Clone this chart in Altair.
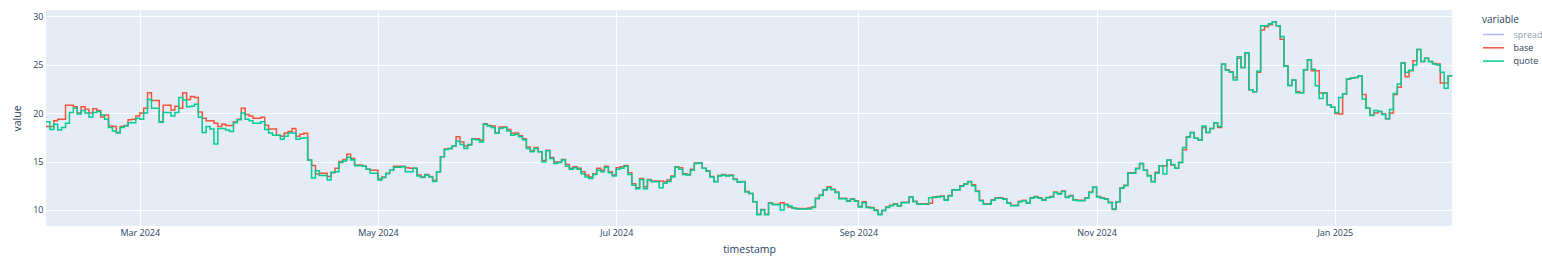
import altair as alt
import pandas as pd

start_date = "2024-02-06"

base = [
    18.6, 18.6, 19.2, 19.35, 19.35, 20.8, 20.8, 20.65, 20.0, 20.65,
    20.4, 20.0, 20.45, 20.25, 19.6, 19.8, 18.65, 18.6, 18.0, 18.6,
    18.7, 19.3, 19.35, 19.7, 20.0, 20.5, 22.1, 21.3, 21.3, 19.1,
    20.8, 20.8, 20.3, 20.7, 20.5, 22.1, 21.4, 21.7, 21.6, 20.1,
    19.45, 19.2, 19.2, 18.95, 18.6, 18.85, 18.7, 18.7, 19.1, 19.35,
    20.5, 19.85, 19.7, 19.45, 19.45, 19.55, 18.75, 18.35, 18.35, 17.7,
    17.6, 17.95, 18.1, 18.4, 17.6, 17.8, 17.9, 15.15, 14.6, 13.7,
    13.8, 13.8, 13.45, 13.85, 14.3, 15.0, 15.2, 15.75, 15.3, 14.65,
    14.65, 14.5, 14.2, 14.1, 14.1, 13.2, 13.4, 13.8, 14.1, 14.5,
    14.5, 14.5, 14.35, 14.3, 14.3, 13.6, 13.4, 13.65, 13.45, 13.05,
    13.95, 15.5, 16.3, 16.35, 16.6, 17.55, 17.0, 16.6, 16.75, 17.35,
    17.35, 17.2, 18.9, 18.7, 18.65, 17.95, 18.55, 18.55, 18.3, 17.9,
    17.95, 17.65, 17.35, 16.5, 16.1, 16.45, 16.0, 15.1, 16.15, 15.4,
    14.95, 14.95, 15.2, 14.7, 14.3, 14.45, 14.3, 13.95, 13.6, 13.4,
    13.75, 14.3, 14.1, 14.5, 13.95, 13.6, 14.35, 14.45, 14.6, 13.85,
    12.7, 12.3, 13.25, 12.4, 13.15, 13.0, 13.0, 13.0, 12.9, 13.1,
    13.5, 14.45, 14.35, 13.75, 13.65, 14.2, 14.85, 14.85, 14.3, 14.05,
    13.45, 12.95, 13.55, 13.65, 13.55, 13.6, 13.2, 12.9, 12.95, 11.9,
    11.7, 10.85, 9.55, 10.05, 9.55, 10.75, 10.6, 10.6, 10.75, 10.6,
    10.3, 10.2, 10.15, 10.15, 10.15, 10.2, 10.3, 11.2, 11.55, 12.1,
    12.4, 12.15, 11.85, 11.2, 11.2, 10.95, 11.15, 10.95, 10.35, 10.85,
    10.3, 10.25, 10.0, 9.55, 9.95, 10.3, 10.5, 10.65, 10.45, 10.8,
    10.8, 11.35, 10.9, 10.65, 10.65, 10.65, 10.7, 11.35, 11.4, 11.45,
    11.05, 11.5, 12.1, 12.1, 12.5, 12.7, 12.95, 12.6, 11.95, 11.0,
    10.65, 10.65, 11.05, 11.25, 11.25, 11.15, 10.75, 10.5, 10.5, 10.9,
    11.0, 10.75, 11.25, 11.4, 11.25, 11.05, 11.3, 11.4, 11.85, 11.7,
    11.95, 11.35, 11.5, 11.05, 11.0, 11.0, 11.25, 11.85, 12.35, 11.4,
    11.25, 11.15, 10.8, 10.05, 10.85, 12.3, 12.55, 13.85, 13.85, 14.3,
    14.8, 14.1, 13.55, 12.95, 13.9, 14.55, 14.55, 15.15, 14.65, 14.3,
    14.9, 16.2, 17.55, 18.0, 17.4, 17.2, 18.5, 18.0, 18.4, 19.0,
    18.5, 25.05, 24.45, 24.25, 23.65, 25.65, 24.7, 26.2, 22.4, 22.2,
    24.2, 28.55, 28.9, 29.1, 29.4, 29.0, 27.6, 24.85, 22.85, 23.4,
    22.2, 22.1, 24.45, 25.5, 24.35, 24.35, 22.05, 22.05, 20.85, 20.6,
    19.95, 19.9, 21.95, 23.5, 23.6, 23.65, 23.85, 21.9, 20.5, 19.8,
    20.0, 20.15, 19.9, 19.4, 20.0, 21.9, 22.65, 25.15, 23.75, 24.35,
    25.4, 26.55, 25.3, 25.65, 25.3, 25.1, 25.05, 23.1, 23.1, 23.85,
    23.9,
]

quote = [
    19.1, 18.3, 18.85, 18.25, 18.5, 18.95, 20.05, 20.5, 19.9, 20.25,
    20.0, 19.6, 20.05, 20.15, 19.8, 19.35, 18.5, 18.15, 17.95, 18.5,
    18.65, 19.0, 19.0, 19.45, 19.35, 20.0, 21.4, 20.5, 20.5, 19.05,
    20.05, 20.05, 19.7, 20.05, 21.6, 21.35, 20.65, 20.7, 20.9, 19.55,
    18.0, 18.6, 18.35, 16.8, 18.4, 18.4, 18.25, 18.1, 19.0, 19.3,
    20.0, 19.35, 19.2, 18.95, 18.95, 19.1, 18.3, 17.95, 17.7, 17.7,
    17.3, 17.6, 17.95, 17.95, 17.3, 17.4, 17.45, 15.15, 13.3, 14.05,
    13.55, 13.55, 13.1, 13.9, 13.95, 14.9, 15.05, 15.45, 15.15, 14.55,
    14.55, 14.5, 14.2, 13.8, 13.8, 13.1, 13.35, 13.75, 14.1, 14.4,
    14.4, 14.45, 13.95, 13.95, 14.3, 13.5, 13.35, 13.6, 13.4, 12.95,
    13.95, 15.5, 16.25, 16.35, 16.6, 17.1, 16.75, 16.35, 16.7, 17.3,
    17.25, 17.0, 18.85, 18.65, 18.5, 17.95, 18.4, 18.5, 18.15, 17.7,
    17.8, 17.55, 17.25, 16.35, 16.0, 16.35, 16.0, 14.95, 16.1, 15.3,
    14.8, 14.9, 15.15, 14.5, 14.2, 14.35, 14.2, 13.75, 13.4, 13.25,
    13.65, 14.1, 13.95, 14.4, 13.85, 13.5, 14.2, 14.3, 14.5, 13.65,
    12.55, 12.2, 13.15, 12.2, 13.1, 12.9, 12.9, 12.3, 12.75, 12.95,
    13.4, 14.4, 14.2, 13.65, 13.6, 14.1, 14.8, 14.85, 14.3, 14.0,
    13.4, 12.9, 13.5, 13.6, 13.5, 13.55, 13.15, 12.85, 12.9, 11.85,
    11.7, 10.85, 9.5, 10.0, 9.5, 10.7, 10.55, 10.55, 10.0, 10.55,
    10.4, 10.2, 10.1, 10.1, 10.1, 10.1, 10.25, 11.15, 11.5, 12.05,
    12.3, 12.1, 11.8, 11.15, 11.15, 10.9, 11.1, 10.9, 10.3, 10.75,
    10.25, 10.2, 9.95, 9.5, 9.95, 10.25, 10.45, 10.6, 10.4, 10.75,
    10.75, 11.35, 10.85, 10.6, 10.6, 10.6, 11.25, 11.3, 11.35, 11.4,
    11.0, 11.45, 12.05, 12.05, 12.45, 12.65, 12.9, 12.5, 11.9, 10.95,
    10.6, 10.6, 11.0, 11.2, 11.2, 11.1, 10.7, 10.45, 10.45, 10.85,
    10.95, 10.7, 11.2, 11.35, 11.2, 11.0, 11.25, 11.35, 11.8, 11.65,
    11.9, 11.3, 11.45, 11.0, 10.95, 10.95, 11.2, 11.8, 12.35, 11.35,
    11.2, 11.1, 10.75, 10.1, 10.85, 12.25, 12.5, 13.8, 13.8, 14.25,
    14.8, 14.1, 13.5, 12.9, 13.8, 14.55, 13.7, 15.15, 14.7, 14.3,
    14.9, 16.45, 17.5, 18.0, 17.4, 17.2, 18.65, 18.0, 18.4, 19.0,
    18.6, 25.05, 24.4, 24.2, 23.4, 25.8, 24.7, 26.2, 22.4, 22.2,
    24.3, 29.0, 29.0, 29.2, 29.4, 29.0, 27.9, 24.85, 22.8, 23.4,
    22.1, 22.1, 24.45, 25.5, 24.5, 22.8, 21.5, 22.05, 20.85, 20.6,
    20.05, 21.6, 21.95, 23.5, 23.6, 23.65, 23.85, 21.45, 20.5, 19.75,
    20.25, 20.15, 19.85, 19.4, 20.35, 22.0, 23.0, 25.15, 24.2, 24.4,
    24.95, 26.55, 25.3, 25.65, 25.3, 25.05, 24.95, 24.2, 22.55, 23.85,
    23.85,
]

series_names = ["spread", "base", "quote"]
series_colors = ["#b1b6fc", "#EF553B", "#00CC96"]
x_tick_dates = ["2024-03-01", "2024-05-01", "2024-07-01", "2024-09-01", "2024-11-01", "2025-01-01"]
y_ticks = [10, 15, 20, 25, 30]

TEXT = "#2a3f5f"
FONT = "Open Sans"


def dt(s):
    t = pd.Timestamp(s)
    return alt.DateTime(year=t.year, month=t.month, date=t.day)


dates = pd.date_range(start_date, periods=len(base), freq="D")
df = pd.DataFrame({"timestamp": dates, "base": base, "quote": quote})
long_df = df.melt("timestamp", var_name="variable", value_name="value")

x_enc = alt.X(
    "timestamp:T",
    scale=alt.Scale(domain=[dt(dates[0]), dt(dates[-1])]),
    axis=alt.Axis(
        values=[dt(s) for s in x_tick_dates],
        format="%b %Y",
        title="timestamp",
        labelPadding=2,
        titlePadding=7,
    ),
)
y_enc = alt.Y(
    "value:Q",
    scale=alt.Scale(domain=[8.35, 30.62], nice=False, zero=False),
    axis=alt.Axis(values=y_ticks, title="value", labelPadding=3, titlePadding=10),
)
color_enc = alt.Color(
    "variable:N",
    scale=alt.Scale(domain=series_names, range=series_colors),
    legend=alt.Legend(
        title="variable",
        orient="none",
        legendX=1436,
        legendY=5,
        symbolType="M-2,0H2",
        symbolSize=110,
        symbolOffset=5.5,
        symbolStrokeWidth=1.5,
        labelOffset=14,
        labelLimit=200,
        labelFont=FONT,
        labelFontSize=9,
        labelColor=alt.ExprRef("datum.label == 'spread' ? '#959fae' : '#2a3f5f'"),
        titleFont=FONT,
        titleFontSize=10,
        titleFontWeight="normal",
        titleColor=TEXT,
        titlePadding=3.5,
        rowPadding=2.3,
        padding=0,
    ),
)

base_chart = alt.Chart(long_df)
line_base = (
    base_chart.transform_filter("datum.variable == 'base'")
    .mark_line(interpolate="step-after", strokeWidth=1.5)
    .encode(x=x_enc, y=y_enc, color=color_enc)
)
line_quote = (
    base_chart.transform_filter("datum.variable == 'quote'")
    .mark_line(interpolate="step-after", strokeWidth=1.5)
    .encode(x=x_enc, y=y_enc, color=color_enc)
)

chart = (
    alt.layer(line_base, line_quote)
    .properties(
        width=1406,
        height=216,
        padding={"left": 46, "top": 10, "right": 90, "bottom": 36},
        autosize=alt.AutoSizeParams(type="none"),
        background="white",
    )
    .configure_view(fill="#E5ECF6", strokeWidth=0)
    .configure_axis(
        domain=False,
        ticks=False,
        grid=True,
        gridColor="white",
        gridWidth=1,
        labelFont=FONT,
        labelFontSize=9,
        labelColor=TEXT,
        titleFont=FONT,
        titleFontSize=10.5,
        titleFontWeight="normal",
        titleColor=TEXT,
    )
)

chart.save("out.html", embed_options={"renderer": "svg", "actions": False})
